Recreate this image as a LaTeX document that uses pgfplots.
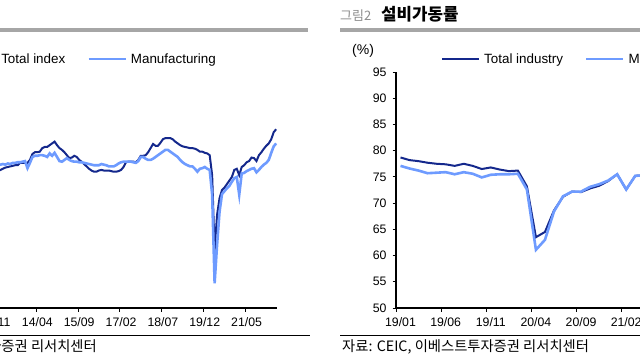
\documentclass[border=0pt]{standalone}
\usepackage{pgfplots}
\pgfplotsset{compat=1.18}
\usepackage{pgfplotstable}
\usepackage{fontspec}
\setmainfont{Liberation Sans}
\newfontfamily\kr{Noto Sans CJK KR}
\definecolor{tot}{HTML}{14288C}
\definecolor{mfg}{HTML}{6E9BFF}
\definecolor{hdr}{HTML}{A6A6A6}
\definecolor{fig}{HTML}{8C8C8C}

% left panel: monthly, k=0 is 2012/11
\pgfplotstableread{
k tot mfg
0 93.2 94.2
1 93.2 94.2
2 93.4 94.3
3 93.6 94.4
4 93.8 94.3
5 93.9 94.5
6 94.0 94.4
7 94.1 94.6
8 94.2 94.6
9 94.2 94.7
10 94.6 94.7
11 94.6 94.8
12 94.6 94.9
13 94.6 93.7
14 95.1 94.6
15 96.1 95.6
16 96.4 95.8
17 96.4 95.8
18 96.5 95.9
19 97.1 95.9
20 97.3 95.8
21 97.3 95.6
22 97.6 96.2
23 97.9 95.8
24 98.2 96.3
25 97.6 95.6
26 97.1 94.9
27 96.8 94.8
28 96.4 95.1
29 95.9 95.4
30 95.4 95.1
31 95.5 94.9
32 95.8 94.8
33 95.6 94.8
34 95.1 94.7
35 94.8 94.7
36 94.4 94.6
37 94.0 94.5
38 93.6 94.4
39 93.3 94.3
40 93.1 94.2
41 93.1 94.2
42 93.3 94.2
43 93.4 94.4
44 93.3 94.3
45 93.3 94.2
46 93.3 94.0
47 93.2 94.0
48 93.1 94.0
49 93.1 94.2
50 93.2 94.5
51 93.4 94.7
52 93.9 94.8
53 94.7 94.8
54 94.8 94.8
55 94.8 94.8
56 94.8 94.7
57 94.7 94.6
58 95.1 94.9
59 95.8 95.6
60 95.8 95.6
61 95.9 95.3
62 96.4 95.1
63 97.1 95.1
64 97.8 95.3
65 97.5 95.6
66 97.5 95.9
67 98.0 96.2
68 98.6 96.5
69 98.8 96.8
70 98.8 96.8
71 98.8 96.5
72 98.6 96.2
73 98.2 95.9
74 97.9 95.6
75 97.6 95.1
76 97.4 94.7
77 97.3 94.4
78 97.2 94.2
79 97.1 94.0
80 97.1 94.0
81 97.0 93.6
82 96.8 93.1
83 96.5 93.6
84 96.5 93.7
85 96.3 93.9
86 96.2 93.6
87 95.9 93.4
88 92.5 89.2
89 79.8 74.2
90 85.8 80.7
91 88.6 86.3
92 90.0 89.3
93 90.4 89.8
94 91.0 90.3
95 91.6 90.7
96 92.2 91.4
97 93.4 92.0
98 93.6 92.2
99 92.5 89.2
100 93.9 92.8
101 94.2 92.9
102 94.7 93.2
103 94.9 93.4
104 95.5 93.6
105 95.4 93.7
106 94.9 93.0
107 95.9 93.4
108 96.4 93.9
109 97.0 94.3
110 97.5 94.6
111 97.9 95.1
112 98.6 96.3
113 99.8 97.4
114 100.3 97.9
}\ipdata

% right panel: monthly, m=0 is 2019/01
\pgfplotstableread{
m tot mfg
0 78.7 77.1
1 78.2 76.6
2 78.0 76.2
3 77.7 75.7
4 77.5 75.8
5 77.4 75.9
6 77.1 75.5
7 77.5 75.9
8 77.1 75.6
9 76.5 74.9
10 76.8 75.4
11 76.4 75.5
12 76.1 75.5
13 76.2 75.6
14 73.2 72.6
15 63.5 61.1
16 64.5 63.0
17 68.6 68.4
18 71.2 71.3
19 72.2 72.2
20 72.1 72.2
21 72.8 73.1
22 73.3 73.6
23 74.2 74.3
24 75.5 75.5
25 72.6 72.6
26 75.2 75.2
27 75.3 75.3
}\cudata

\pgfplotsset{
  panel/.style={
    scale only axis, anchor=south west,
    width=325pt, height=236pt,
    axis x line*=bottom, axis y line*=left,
    axis line style={line width=1.2pt, black},
    tick style={black, line width=0.8pt},
    tick align=outside, major tick length=3.5pt,
    tick label style={font=\fontsize{12.3}{12.3}\selectfont, text=black},
    xticklabel style={yshift=-2.5pt},
    yticklabel style={xshift=-2.5pt},
    /pgf/number format/assume math mode=true,
    legend columns=2,
    legend style={draw=none, fill=none, inner sep=0pt, outer sep=0pt, anchor=west,
      font=\fontsize{13.4}{13.4}\selectfont,
      nodes={inner sep=0pt},
      /tikz/every odd column/.append style={column sep=4pt},
      /tikz/every even column/.append style={column sep=22pt}},
    legend image code/.code={\draw[##1] (0pt,0pt) -- (37pt,0pt);},
  },
}

\begin{document}
\begin{tikzpicture}[x=1pt,y=1pt]
\useasboundingbox (0,0) rectangle (640,360);
\clip (0,0) rectangle (640,360);

% header and footer rules
\draw[hdr, line width=4pt] (0,329.7) -- (308,329.7);
\draw[hdr, line width=4pt] (340,329.7) -- (640,329.7);
\draw[black, line width=1.6pt] (0,24.5) -- (310,24.5);
\draw[black, line width=1.6pt] (340,24.5) -- (640,24.5);

% left panel (its y axis lies left of the visible area)
\begin{axis}[panel, at={(-47.6pt,52pt)},
  xmin=-17.5, xmax=114.5, ymin=70, ymax=110,
  xtick={-0.5,16.5,33.5,50.5,67.5,84.5,101.5},
  xticklabels={12/11,14/04,15/09,17/02,18/07,19/12,21/05},
  xticklabel style={xshift=1.23pt},
  ytick=\empty,
  legend style={at={(axis description cs:0.018,1.055)}},
]
\addplot[tot, line width=2pt] table[x=k,y=tot]{\ipdata};
\addlegendentry{Total index}
\addplot[mfg, line width=2.6pt] table[x=k,y=mfg]{\ipdata};
\addlegendentry{Manufacturing}
\end{axis}

% right panel
\begin{axis}[panel, at={(396pt,52pt)},
  xmin=-0.5, xmax=35.5, ymin=50, ymax=95,
  xtick={-0.5,4.5,...,34.5},
  xticklabels={19/01,19/06,19/11,20/04,20/09,21/02,21/07,21/12},
  xticklabel style={xshift=4.5pt},
  ytick={50,55,...,95},
  legend style={at={(axis description cs:0.139,1.055)}},
]
\addplot[tot, line width=2pt] table[x=m,y=tot]{\cudata};
\addlegendentry{Total industry}
\addplot[mfg, line width=2.6pt] table[x=m,y=mfg]{\cudata};
\addlegendentry{Manufacturing}
\end{axis}

% texts
\node[anchor=base west, inner sep=0pt] at (340,339.5) {\kr\fontsize{13}{13}\selectfont\color{fig}그림2};
\node[anchor=base west, inner sep=0pt] at (381,339.5) {\kr\bfseries\fontsize{16.8}{16.8}\selectfont 설비가동률};
\node[anchor=base west, inner sep=0pt] at (352,305.5) {\fontsize{14}{14}\selectfont (\%)};
\node[anchor=base west, inner sep=0pt] at (342,8.5) {\kr\fontsize{14.3}{14.3}\selectfont 자료: CEIC, 이베스트투자증권 리서치센터};
\node[anchor=base east, inner sep=0pt] at (97,8.5) {\kr\fontsize{14.3}{14.3}\selectfont 자료: CEIC, 이베스트투자증권 리서치센터};
\end{tikzpicture}
\end{document}
